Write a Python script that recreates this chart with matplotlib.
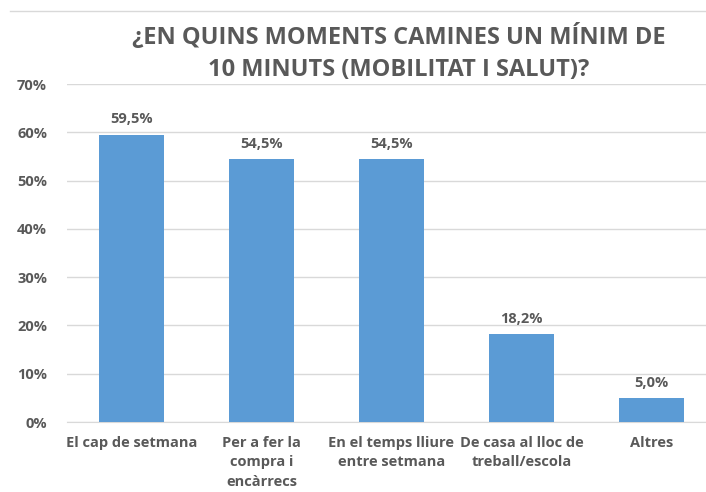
import matplotlib
matplotlib.use("Agg")
import matplotlib.pyplot as plt
from matplotlib.ticker import FuncFormatter

categories = ["El cap de setmana", "Per a fer la\ncompra i\nencàrrecs",
              "En el temps lliure\nentre setmana", "De casa al lloc de\ntreball/escola", "Altres"]
values = [59.5, 54.5, 54.5, 18.2, 5.0]
title = "¿EN QUINS MOMENTS CAMINES UN MÍNIM DE\n10 MINUTS (MOBILITAT I SALUT)?"

plt.rcParams['font.family'] = ['Open Sans', 'DejaVu Sans']
text_col = "#595959"

fig = plt.figure(figsize=(7.06, 4.92), dpi=100)
ax = fig.add_axes([66.5 / 706, 1 - 422 / 492, 650 / 706, (422 - 84) / 492])

x = range(len(categories))
bars = ax.bar(x, values, width=0.5, color="#5B9BD5", zorder=3)
for b, v in zip(bars, values):
    ax.annotate(f"{v:.1f}%".replace(".", ","), (b.get_x() + b.get_width() / 2, v),
                xytext=(0, 6), textcoords="offset points", ha="center", va="bottom",
                fontsize=10.5, fontweight="bold", color=text_col)

ax.set_xlim(-0.5, len(categories) - 0.5)
ax.set_ylim(0, 70)
ax.set_yticks(range(0, 71, 10))
ax.yaxis.set_major_formatter(FuncFormatter(lambda v, p: f"{v:.0f}%"))
ax.grid(axis="y", color="#D9D9D9", linewidth=1, zorder=0)
for s in ["top", "right", "left"]:
    ax.spines[s].set_visible(False)
ax.spines["bottom"].set_color("#D9D9D9")
ax.tick_params(axis="both", length=0, colors=text_col, labelsize=10.5)
ax.tick_params(axis="y", pad=14)
ax.set_xticks(list(x))
ax.set_xticklabels(categories, fontweight="bold", linespacing=1.5)
for lab in ax.get_yticklabels():
    lab.set_fontweight("bold")
ax.tick_params(axis="x", pad=10)

fig.text(0.565, 0.833, title, ha="center", va="bottom", fontsize=17,
         fontweight="bold", color=text_col, linespacing=1.45)
fig.add_artist(plt.Line2D([10 / 706, 1], [1 - 11 / 492] * 2, color="#D9D9D9", linewidth=1))

fig.savefig("out.png", dpi=100)
